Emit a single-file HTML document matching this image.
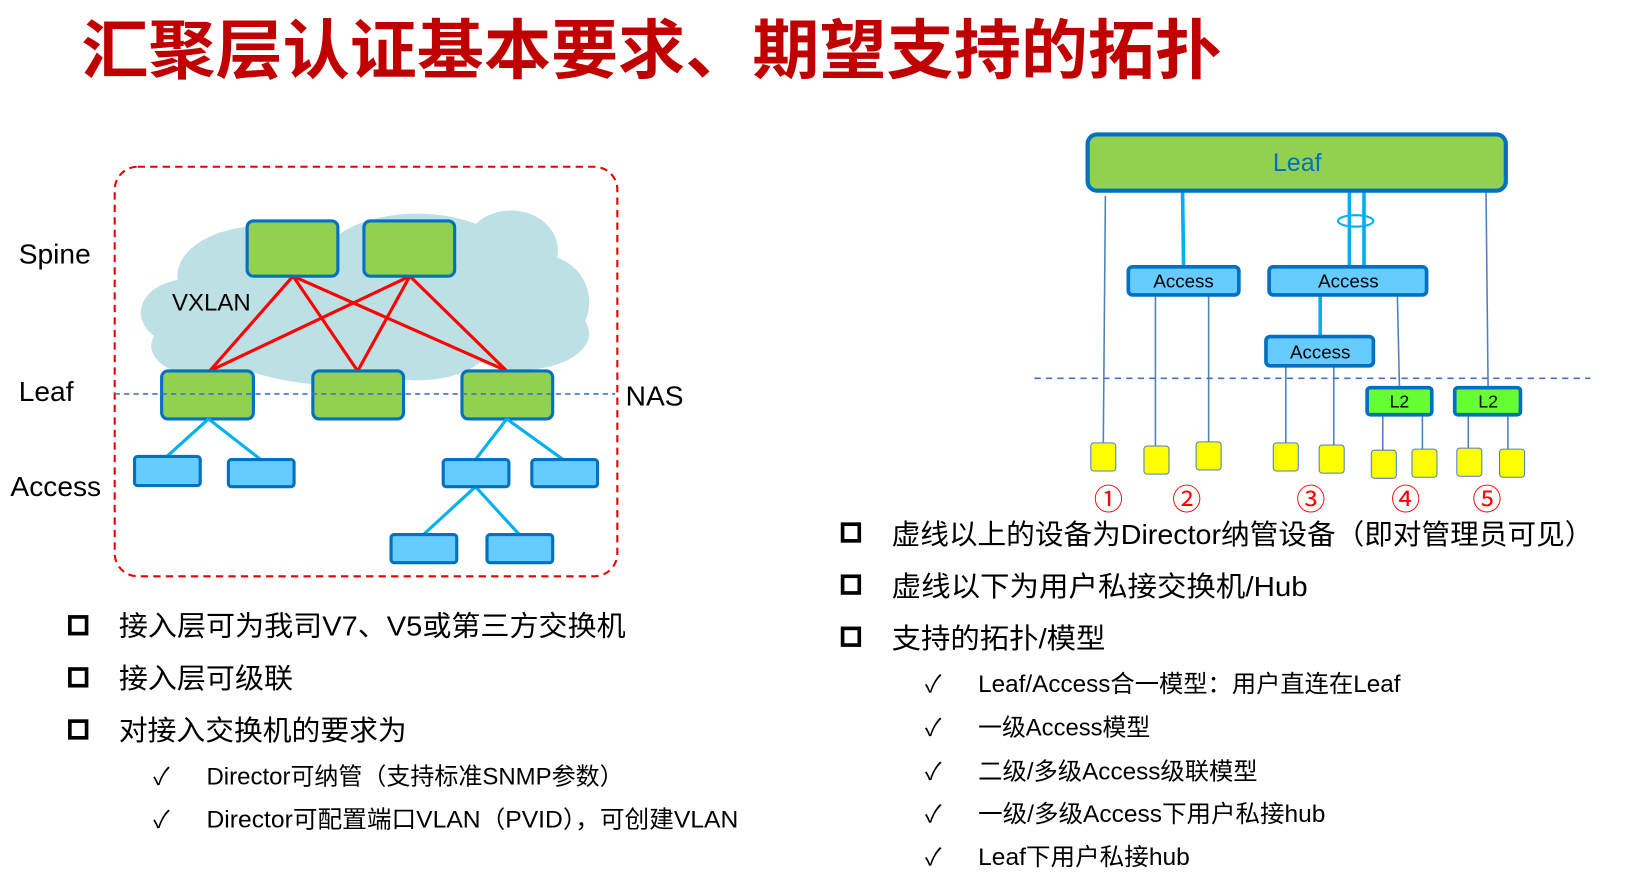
<!DOCTYPE html>
<html><head><meta charset="utf-8"><style>
html,body{margin:0;padding:0;background:#fff;}
svg{display:block;}
text{font-family:"Liberation Sans","Noto Sans CJK SC",sans-serif;}
</style></head><body>
<svg width="1632" height="891" viewBox="0 0 1565 855" preserveAspectRatio="none" xmlns="http://www.w3.org/2000/svg">
<!-- Title -->
<text x="78" y="70" font-size="62" font-weight="bold" fill="#c00000" textLength="1094" lengthAdjust="spacingAndGlyphs">汇聚层认证基本要求、期望支持的拓扑</text>

<!-- Left diagram -->
<g fill="#bde0e4">
<ellipse cx="250" cy="265" rx="80" ry="48"/>
<ellipse cx="180" cy="300" rx="45" ry="32"/>
<ellipse cx="200" cy="332" rx="55" ry="30"/>
<ellipse cx="330" cy="320" rx="130" ry="50"/>
<ellipse cx="400" cy="250" rx="90" ry="45"/>
<ellipse cx="490" cy="240" rx="45" ry="38"/>
<ellipse cx="520" cy="290" rx="45" ry="45"/>
<ellipse cx="500" cy="320" rx="65" ry="35"/>
<ellipse cx="400" cy="330" rx="70" ry="35"/>
<ellipse cx="300" cy="340" rx="80" ry="25"/>
<ellipse cx="450" cy="290" rx="70" ry="40"/>
<ellipse cx="360" cy="290" rx="90" ry="40"/>
</g>
<rect x="110" y="160" width="482" height="393" rx="22" fill="none" stroke="#e60000" stroke-width="2" stroke-dasharray="7,5"/>
<g stroke="#ff0000" stroke-width="3">
<line x1="281" y1="265" x2="201" y2="356"/><line x1="281" y1="265" x2="343" y2="356"/><line x1="281" y1="265" x2="486" y2="356"/>
<line x1="393" y1="265" x2="201" y2="356"/><line x1="393" y1="265" x2="343" y2="356"/><line x1="393" y1="265" x2="486" y2="356"/>
</g>
<g fill="#92d050" stroke="#0070c0" stroke-width="3">
<rect x="237" y="212" width="87" height="53" rx="6"/><rect x="349" y="212" width="87" height="53" rx="6"/>
<rect x="155" y="356" width="88" height="46" rx="6"/><rect x="300" y="356" width="87" height="46" rx="6"/><rect x="443" y="356" width="87" height="46" rx="6"/>
</g>
<line x1="110" y1="378" x2="590" y2="378" stroke="#4472c4" stroke-width="1.5" stroke-dasharray="5,4"/>
<g stroke="#00b0f0" stroke-width="3">
<line x1="200" y1="402" x2="160" y2="438"/><line x1="200" y1="402" x2="250" y2="441"/>
<line x1="486" y1="402" x2="456" y2="441"/><line x1="486" y1="402" x2="540" y2="441"/>
<line x1="456" y1="467" x2="406" y2="513"/><line x1="456" y1="467" x2="498" y2="513"/>
</g>
<g fill="#66ccff" stroke="#0070c0" stroke-width="3">
<rect x="129" y="438" width="63" height="28" rx="3"/><rect x="219" y="441" width="63" height="26" rx="3"/>
<rect x="425" y="441" width="63" height="26" rx="3"/><rect x="510" y="441" width="63" height="26" rx="3"/>
<rect x="375" y="513" width="63" height="27" rx="3"/><rect x="467" y="513" width="63" height="27" rx="3"/>
</g>
<g font-size="27" fill="#000">
<text x="18" y="253">Spine</text>
<text x="165" y="298" font-size="23">VXLAN</text>
<text x="18" y="385">Leaf</text>
<text x="10" y="476">Access</text>
<text x="600" y="389">NAS</text>
</g>

<!-- Bullets -->
<g fill="none" stroke="#000" stroke-width="3.5">
<rect x="67" y="592" width="16" height="16"/><rect x="67" y="642" width="16" height="16"/><rect x="67" y="692" width="16" height="16"/>
<rect x="808" y="503" width="16" height="16"/><rect x="808" y="553" width="16" height="16"/><rect x="808" y="603" width="16" height="16"/>
</g>
<g font-size="27" fill="#000">
<text x="114" y="610" textLength="486" lengthAdjust="spacingAndGlyphs">接入层可为我司V7、V5或第三方交换机</text>
<text x="114" y="660" textLength="167" lengthAdjust="spacingAndGlyphs">接入层可级联</text>
<text x="114" y="710" textLength="276" lengthAdjust="spacingAndGlyphs">对接入交换机的要求为</text>
<text x="855" y="522" textLength="673" lengthAdjust="spacingAndGlyphs">虚线以上的设备为Director纳管设备（即对管理员可见）</text>
<text x="855" y="572" textLength="399" lengthAdjust="spacingAndGlyphs">虚线以下为用户私接交换机/Hub</text>
<text x="855" y="622" textLength="205" lengthAdjust="spacingAndGlyphs">支持的拓扑/模型</text>
</g>
<g font-size="23" fill="#000">
<text x="147" y="753">✓</text><text x="198" y="753" textLength="400" lengthAdjust="spacingAndGlyphs">Director可纳管（支持标准SNMP参数）</text>
<text x="147" y="794">✓</text><text x="198" y="794" textLength="510" lengthAdjust="spacingAndGlyphs">Director可配置端口VLAN（PVID），可创建VLAN</text>
<text x="887" y="664">✓</text><text x="938" y="664" textLength="405" lengthAdjust="spacingAndGlyphs">Leaf/Access合一模型：用户直连在Leaf</text>
<text x="887" y="706">✓</text><text x="938" y="706" textLength="165" lengthAdjust="spacingAndGlyphs">一级Access模型</text>
<text x="887" y="748">✓</text><text x="938" y="748" textLength="268" lengthAdjust="spacingAndGlyphs">二级/多级Access级联模型</text>
<text x="887" y="789">✓</text><text x="938" y="789" textLength="333" lengthAdjust="spacingAndGlyphs">一级/多级Access下用户私接hub</text>
<text x="887" y="830">✓</text><text x="938" y="830" textLength="203" lengthAdjust="spacingAndGlyphs">Leaf下用户私接hub</text>
</g>

<!-- Right diagram -->
<g stroke="#4f81bd" stroke-width="1.5">
<line x1="1060" y1="188" x2="1058" y2="425"/>
<line x1="1108" y1="283" x2="1108" y2="428"/><line x1="1159" y1="283" x2="1159" y2="424"/>
<line x1="1233" y1="351" x2="1233" y2="425"/><line x1="1279" y1="351" x2="1279" y2="427"/>
<line x1="1340" y1="283" x2="1342" y2="372"/><line x1="1425" y1="183" x2="1427" y2="372"/>
<line x1="1326" y1="398" x2="1326" y2="432"/><line x1="1364" y1="398" x2="1364" y2="431"/>
<line x1="1408" y1="398" x2="1408" y2="430"/><line x1="1446" y1="398" x2="1446" y2="431"/>
</g>
<g stroke="#00b0f0" stroke-width="3.5">
<line x1="1134" y1="183" x2="1135" y2="256"/>
<line x1="1294" y1="183" x2="1294" y2="256"/><line x1="1308" y1="183" x2="1308" y2="256"/>
<line x1="1266" y1="283" x2="1266" y2="323"/>
</g>
<ellipse cx="1300" cy="212" rx="17" ry="5.5" fill="none" stroke="#00b0f0" stroke-width="2"/>
<rect x="1043" y="129" width="401" height="54" rx="9" fill="#92d050" stroke="#0070c0" stroke-width="4"/>
<text x="1244" y="164" font-size="24" fill="#0070c0" text-anchor="middle">Leaf</text>
<g fill="#66ccff" stroke="#0070c0" stroke-width="3.5">
<rect x="1082" y="256" width="106" height="27" rx="4"/>
<rect x="1217" y="256" width="151" height="27" rx="4"/>
<rect x="1214" y="323" width="103" height="28" rx="4"/>
</g>
<g font-size="18" fill="#000" text-anchor="middle">
<text x="1135" y="276">Access</text><text x="1293" y="276">Access</text><text x="1266" y="344">Access</text>
</g>
<line x1="992" y1="363" x2="1525" y2="363" stroke="#4472c4" stroke-width="1.5" stroke-dasharray="6,5"/>
<g fill="#66ff33" stroke="#0070c0" stroke-width="3.5">
<rect x="1311" y="372" width="62" height="26" rx="3"/><rect x="1395" y="372" width="63" height="26" rx="3"/>
</g>
<g font-size="17" fill="#000" text-anchor="middle"><text x="1342" y="391">L2</text><text x="1427" y="391">L2</text></g>
<g fill="#ffff00" stroke="#4f81bd" stroke-width="1">
<rect x="1046" y="425" width="24" height="27" rx="3"/><rect x="1097" y="428" width="24" height="27" rx="3"/>
<rect x="1147" y="424" width="24" height="27" rx="3"/><rect x="1221" y="425" width="24" height="27" rx="3"/>
<rect x="1265" y="427" width="24" height="27" rx="3"/><rect x="1315" y="432" width="24" height="27" rx="3"/>
<rect x="1354" y="431" width="24" height="27" rx="3"/><rect x="1397" y="430" width="24" height="27" rx="3"/>
<rect x="1438" y="431" width="24" height="27" rx="3"/>
</g>
<g font-size="28" fill="#ff0000" text-anchor="middle" font-family="'Noto Sans CJK SC',sans-serif">
<text x="1063" y="489">①</text><text x="1138" y="489">②</text><text x="1257" y="489">③</text><text x="1348" y="489">④</text><text x="1426" y="489">⑤</text>
</g>
</svg>
</body></html>
